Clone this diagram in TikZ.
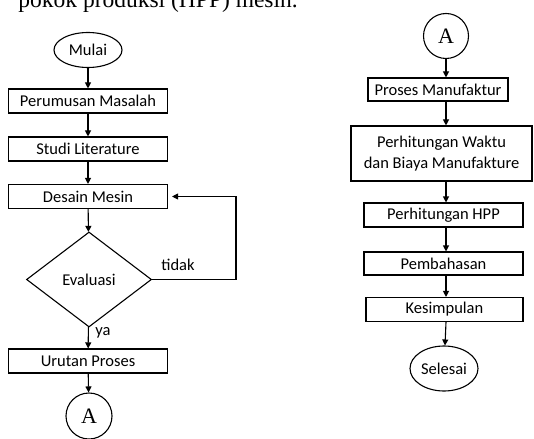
\documentclass[tikz,border=0pt]{standalone}
\usepackage{fontspec}
\setmainfont{Carlito}
\newfontfamily\serifteks{Liberation Serif}
\usepackage{tikz}
\usetikzlibrary{arrows.meta,shapes.geometric}

\begin{document}
\begin{tikzpicture}[x=1pt,y=-1pt]
\useasboundingbox (0,0) rectangle (534,438);
\clip (0,0) rectangle (534,438);

\node[anchor=base east,inner sep=0pt,font=\serifteks\fontsize{23.5}{23.5}\selectfont] (kalimat) at (298,8) {pokok produksi (HPP) mesin.};

% kolom kiri
\begin{scope}[every node/.style={draw,line width=1.1pt,inner sep=0pt,font=\fontsize{16.5}{21}\selectfont}]
    \node[ellipse,minimum width=68pt,minimum height=35pt] (mulai) at (88,50) {Mulai};
    \node[minimum width=159pt,minimum height=24pt] (rumus) at (88,101) {Perumusan Masalah};
    \node[minimum width=159pt,minimum height=24pt] (studi) at (88,149) {Studi Literature};
    \node[minimum width=159pt,minimum height=24pt] (desain) at (88,196.5) {Desain Mesin};
    \node[diamond,minimum width=125pt,minimum height=95pt] (evaluasi) at (89,279.5) {Evaluasi};
    \node[minimum width=159pt,minimum height=24pt] (urutan) at (88,361) {Urutan Proses};
    \node[circle,minimum size=46pt,font=\serifteks\fontsize{22}{22}\selectfont] (konA) at (89,416) {A};
\end{scope}

% kolom kanan
\begin{scope}[every node/.style={draw,line width=1.1pt,inner sep=0pt,font=\fontsize{16.5}{21}\selectfont}]
    \node[circle,minimum size=45pt,font=\serifteks\fontsize{22}{22}\selectfont] (konB) at (446,36) {A};
    \node[minimum width=140pt,minimum height=23pt] (manuf) at (438,89.5) {Proses Manufaktur};
    \node[minimum width=181pt,minimum height=55pt,align=center] (waktu) at (441.5,153.5) {Perhitungan Waktu\\dan Biaya Manufakture};
    \node[minimum width=159pt,minimum height=24pt] (hpp) at (443.5,215) {Perhitungan HPP};
    \node[minimum width=159pt,minimum height=23pt] (bahas) at (443.5,263.5) {Pembahasan};
    \node[minimum width=157pt,minimum height=24pt] (simpul) at (444.5,309.5) {Kesimpulan};
    \node[ellipse,minimum width=68pt,minimum height=45pt] (selesai) at (444,368.5) {Selesai};
\end{scope}

\begin{scope}[font=\fontsize{16.5}{21}\selectfont]
    \node (tidak) at (178,265) {tidak};
    \node (ya) at (103,333) {ya};
\end{scope}
\coordinate (balik) at (236,0);

\begin{scope}[>={Triangle[length=6pt,width=6pt]},
              every edge/.style={draw=black,line width=1.1pt}]
    \path [->] (mulai) edge (rumus);
    \path [->] (rumus) edge (studi);
    \path [->] (studi) edge (desain);
    \path [->] (desain) edge (evaluasi);
    \path [->] (evaluasi) edge (urutan);
    \path [->] (urutan) edge (konA);
    \path [->] (konB) edge (konB |- manuf.north);
    \path [->] (konB |- manuf.south) edge (konB |- waktu.north);
    \path [->] (konB |- waktu.south) edge (konB |- hpp.north);
    \path [->] (konB |- hpp.south) edge (konB |- bahas.north);
    \path [->] (konB |- bahas.south) edge (konB |- simpul.north);
    \path [->] (konB |- simpul.south) edge (selesai);
    \draw [->,line width=1.1pt] (evaluasi.east) -- (evaluasi.east -| balik) |- ([xshift=4pt]desain.east);
\end{scope}

\end{tikzpicture}
\end{document}
